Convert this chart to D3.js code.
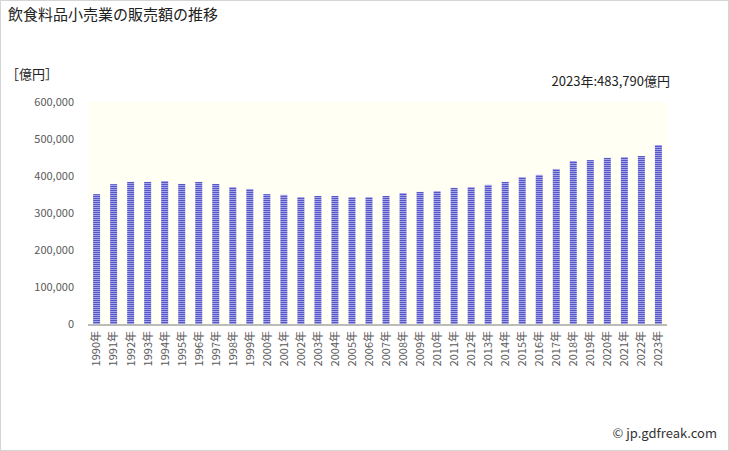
<!DOCTYPE html>
<html><head><meta charset="utf-8">
<script src="https://cdn.jsdelivr.net/npm/d3@7"></script>
<style>body{margin:0;background:#fff}svg{display:block}</style>
</head><body>
<script>
const years = ["1990","1991","1992","1993","1994","1995","1996","1997","1998","1999","2000","2001","2002","2003","2004","2005","2006","2007","2008","2009","2010","2011","2012","2013","2014","2015","2016","2017","2018","2019","2020","2021","2022","2023"];
const sales = [351000,378000,384000,384000,386500,378500,384000,378500,370000,365000,351000,349000,343000,346000,346000,343000,343000,346000,354000,357000,359000,368000,370000,376000,384000,397000,403000,419000,440500,443000,449000,451000,454000,483790];
const yTicks = [0,100000,200000,300000,400000,500000,600000];
const title = "飲食料品小売業の販売額の推移";
const unitLabel = "［億円］";
const note = "2023年:483,790億円";
const credit = "© jp.gdfreak.com";

const W = 729, H = 451;
const m = {left: 88, right: 62, top: 102, bottom: 127};
const svg = d3.select("body").append("svg").attr("width", W).attr("height", H);
const font = "'Noto Sans CJK JP', 'Noto Sans', sans-serif";

const defs = svg.append("defs");
const pat = defs.append("pattern").attr("id","stripe").attr("patternUnits","userSpaceOnUse")
  .attr("width",4).attr("height",2);
pat.append("rect").attr("width",4).attr("height",1).attr("y",0).attr("fill","#5656c4");
pat.append("rect").attr("width",4).attr("height",1).attr("y",1).attr("fill","#a4a4ea");

svg.append("rect").attr("x",0.5).attr("y",0.5).attr("width",W-1).attr("height",H-1)
  .attr("fill","none").attr("stroke","#d4d4d4");

const x = d3.scaleBand().domain(years).range([m.left, W - m.right]).paddingInner(0.59).paddingOuter(0.3);
const y = d3.scaleLinear().domain([0, 600000]).range([H - m.bottom, m.top]);

svg.append("rect").attr("x", m.left).attr("y", m.top)
  .attr("width", W - m.right - m.left).attr("height", H - m.bottom - m.top).attr("fill", "#fffff4");

svg.append("g").selectAll("rect").data(sales).join("rect")
  .attr("x", (d,i) => x(years[i])).attr("width", x.bandwidth())
  .attr("y", d => y(d)).attr("height", d => y(0) - y(d))
  .attr("fill", "url(#stripe)");

svg.append("line").attr("x1", m.left).attr("x2", W - m.right)
  .attr("y1", y(0) + 1).attr("y2", y(0) + 1).attr("stroke", "#bbbbbb").attr("stroke-width", 2);

const yAxis = d3.axisLeft(y).tickValues(yTicks).tickFormat(d3.format(",")).tickSize(0).tickPadding(14);
const yg = svg.append("g").attr("transform", `translate(${m.left},0)`).call(yAxis);
yg.select(".domain").remove();
yg.selectAll("text").attr("font-family", font).attr("font-size", 11).attr("fill", "#5a5a5a");

const xAxis = d3.axisBottom(x).tickFormat(d => d + "年").tickSize(0);
const xg = svg.append("g").attr("transform", `translate(0,${y(0)})`).call(xAxis);
xg.select(".domain").remove();
xg.selectAll("text").attr("font-family", font).attr("font-size", 11).attr("fill", "#5a5a5a")
  .attr("text-anchor", "end").attr("dy", "0.35em")
  .attr("transform", "translate(0,7) rotate(-90)").attr("x", 0).attr("y", 0);

svg.append("text").attr("x", 8).attr("y", 20).text(title)
  .attr("font-family", font).attr("font-size", 15).attr("fill", "#222");
svg.append("text").attr("x", 6).attr("y", 79).text(unitLabel)
  .attr("font-family", font).attr("font-size", 13).attr("fill", "#222");
svg.append("text").attr("x", 670).attr("y", 86).attr("text-anchor", "end").text(note)
  .attr("font-family", font).attr("font-size", 13).attr("fill", "#222");
svg.append("text").attr("x", 717).attr("y", 438).attr("text-anchor", "end").text(credit)
  .attr("font-family", font).attr("font-size", 13).attr("fill", "#333");
</script>
</body></html>
